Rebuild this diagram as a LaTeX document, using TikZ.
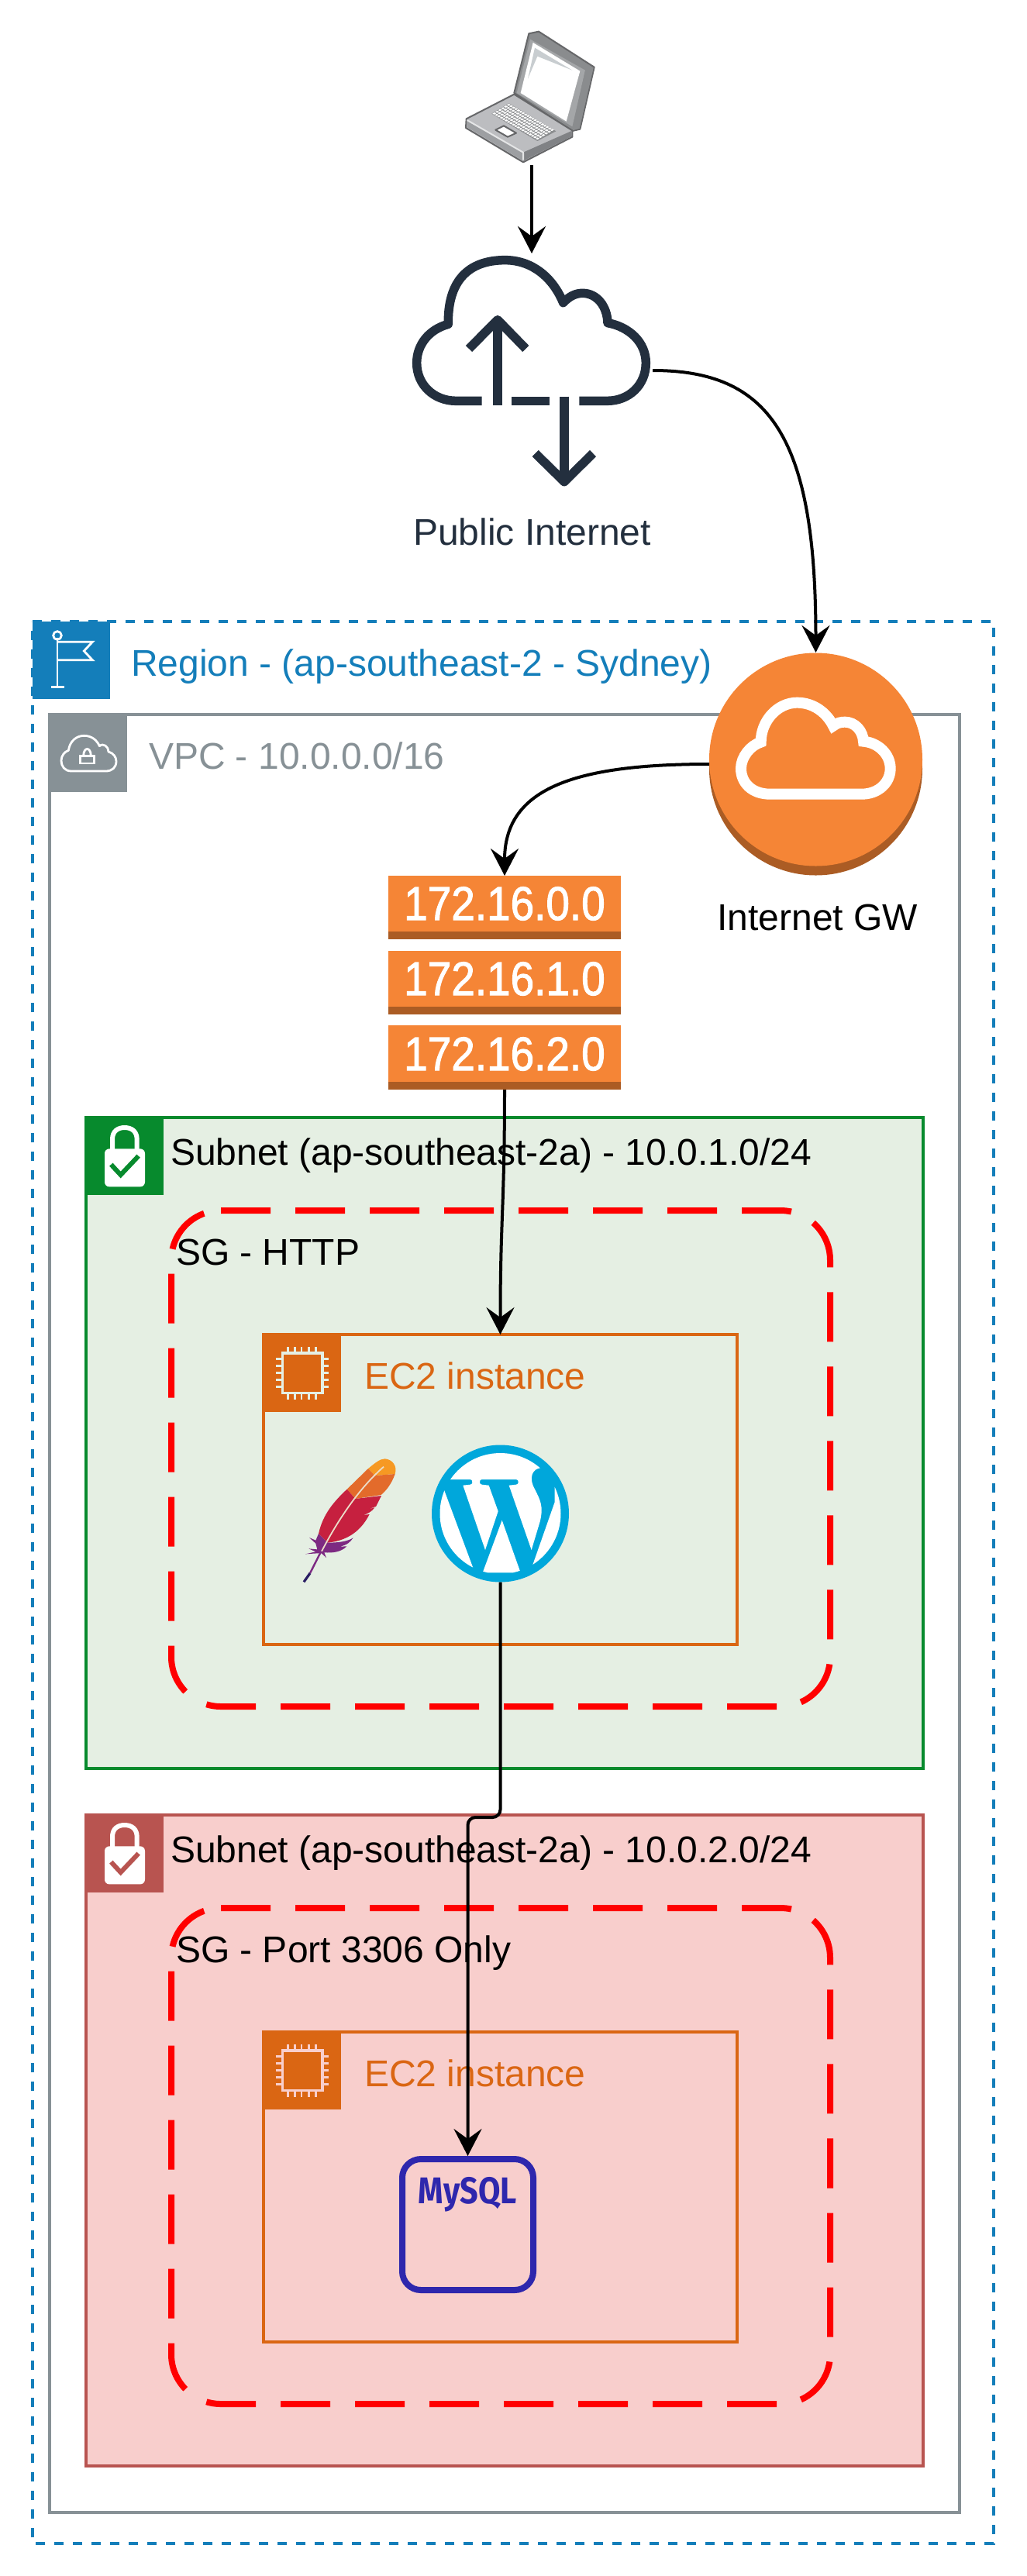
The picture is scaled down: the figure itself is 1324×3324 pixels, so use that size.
\documentclass[tikz,border=0pt]{standalone}
\usepackage{fontspec}
\setmainfont{Liberation Sans}
\newfontfamily\mysqlfont{Fira Sans}
\newfontfamily\ipfont[FakeBold=1.8]{Liberation Sans}
\usetikzlibrary{arrows.meta,calc}
\definecolor{regionc}{HTML}{147EBA}
\definecolor{vpcc}{HTML}{879196}
\definecolor{greenb}{HTML}{078A2D}
\definecolor{greenf}{HTML}{E5EFE3}
\definecolor{redb}{HTML}{B85450}
\definecolor{redf}{HTML}{F8CECC}
\definecolor{ec2c}{HTML}{DA6613}
\definecolor{awso}{HTML}{F58536}
\definecolor{awsd}{HTML}{AB5C24}
\definecolor{inkc}{HTML}{232F3E}
\definecolor{wpc}{HTML}{00A7DB}
\definecolor{dbc}{HTML}{2E27AD}
\definecolor{fya}{HTML}{F69923}
\definecolor{fob}{HTML}{E36B2B}
\definecolor{frd}{HTML}{C6203F}
\definecolor{fpu}{HTML}{7D2A82}
\definecolor{fna}{HTML}{2A1E64}
\definecolor{fcr}{HTML}{EBDCC8}
\definecolor{lapa}{HTML}{666769}
\definecolor{lapb}{HTML}{8A8C8E}
\definecolor{lapc}{HTML}{A4A6A8}
\definecolor{lapd}{HTML}{C8CDD0}
\definecolor{lape}{HTML}{BCBDC0}
\definecolor{lapf}{HTML}{9D9FA2}
\definecolor{lapg}{HTML}{808285}
\definecolor{laph}{HTML}{E4E5E6}
\tikzset{
  x=0.5pt,y=-0.5pt,
  >={Stealth[length=17.5pt,width=18pt,inset=6.5pt]},
  lbl/.style={anchor=base west,inner sep=0pt,outer sep=0pt,font=\fontsize{24}{28}\selectfont},
  ghost/.style={inner sep=0pt,outer sep=0pt,rectangle},
  conn/.style={draw=black,line width=2pt},
  sgline/.style={draw=red,line width=4pt,dash pattern=on 32pt off 16pt,rounded corners=32pt},
  iptext/.style={anchor=base,inner sep=0pt,text=white,font=\ipfont\fontsize{30.5}{34}\selectfont},
}
\newcommand{\lockicon}[2]{%
  \begin{scope}[shift={(90,#1)},scale=1/3]
    \draw[white,line width=3pt] (165,190) -- (165,150) .. controls (165,120) and (185,105) .. (212,105) .. controls (240,105) and (260,120) .. (260,150) -- (260,190);
    \fill[white,rounded corners=3pt] (135,187) rectangle (291,334);
    \draw[#2,line width=3pt] (160,248) -- (197,288) -- (266,215);
  \end{scope}}
\newcommand{\chipicon}[2]{%
  \begin{scope}[shift={(320,#1)},scale=1/3]
    \fill[ec2c] (54,90) rectangle (360,396);
    \draw[#2,line width=1.6pt] (133,168) rectangle (288,322);
    \foreach \q in {155,181,207,235,262}{
      \draw[#2,line width=1.4pt] (\q,145) -- (\q,168);
      \draw[#2,line width=1.4pt] (\q,322) -- (\q,347);
    }
    \foreach \q in {190,217,245,272,298}{
      \draw[#2,line width=1.4pt] (107,\q) -- (133,\q);
      \draw[#2,line width=1.4pt] (288,\q) -- (313,\q);
    }
  \end{scope}}
\newcommand{\sgbox}[1]{%
  \begin{scope}[yshift=#1]
    \draw[sgline] (285,1562) -- (1071,1562) -- (1071,2202) -- (221,2202) -- (221,1562) -- (285,1562);
  \end{scope}}
\begin{document}
\begin{tikzpicture}
\useasboundingbox (0,0) rectangle (1324,3324);
\fill[white] (0,0) rectangle (1324,3324);

% ---------- region ----------
\draw[regionc,line width=2pt,dash pattern=on 6pt off 6pt] (42,802) -- (1282,802) -- (1282,3282) -- (42,3282) -- cycle;
\fill[regionc] (42,802) rectangle (142,902);
\begin{scope}[shift={(20,780)},scale=1/3]
  \draw[white,line width=1.4pt] (162,128) -- (162,320) (137,320) -- (188,320);
  \draw[white,line width=1.4pt] (162,120) circle[radius=8pt];
  \draw[white,line width=1.4pt] (162,145) -- (298,145) -- (265,180) -- (298,215) -- (162,215);
\end{scope}
\node[lbl,text=regionc] (regionlabel) at (169,872) {Region - (ap-southeast-2 - Sydney)};

% ---------- vpc ----------
\draw[vpcc,line width=2pt] (64,922) rectangle (1238,3242);
\fill[vpcc] (62,920) rectangle (164,1022);
\begin{scope}[shift={(20,780)},scale=1/3]
  \draw[white,line width=1.4pt,line join=round] (215,645) .. controls (190,645) and (177,625) .. (177,605) .. controls (177,585) and (190,570) .. (205,565) .. controls (210,530) and (235,508) .. (265,508) .. controls (295,508) and (315,525) .. (325,548) .. controls (340,535) and (360,550) .. (360,570) .. controls (378,575) and (390,590) .. (390,607) .. controls (390,630) and (375,645) .. (350,645) -- cycle;
  \draw[white,line width=1.4pt] (250,587) rectangle (305,615);
  \draw[white,line width=1.4pt] (263,587) .. controls (263,550) and (292,550) .. (292,587);
\end{scope}
\node[lbl,text=vpcc] (vpclabel) at (192,992) {VPC - 10.0.0.0/16};

% ---------- subnet A ----------
\draw[greenb,fill=greenf,line width=2pt] (111,1442) rectangle (1191,2282);
\fill[greenb] (109,1440) rectangle (211,1542);
\lockicon{1420}{greenb}
\node[lbl] (subnetalabel) at (220,1503) {Subnet (ap-southeast-2a) - 10.0.1.0/24};
\sgbox{0pt}
\node[lbl] (sgalabel) at (227,1632) {SG - HTTP};
\node[ghost,draw=ec2c,line width=2pt,minimum width=305.5pt,minimum height=200pt] (ec2a) at (645.5,1922) {};
\chipicon{1690}{greenf}
\node[lbl,text=ec2c] (ec2alabel) at (470,1792) {EC2 instance};

% apache feather
\begin{scope}[shift={(320,1820)},scale=1/3]
  \fill[fya] (465,225) .. controls (490,205) and (510,187) .. (530,187) .. controls (560,190) and (578,215) .. (569,246) -- (490,252) -- cycle;
  \fill[fob] (383,305) -- (465,225) -- (490,252) -- (569,246) .. controls (555,285) and (535,310) .. (515,327) -- (415,342) -- cycle;
  \fill[frd] (273,477) .. controls (290,400) and (335,350) .. (383,305) -- (415,342) -- (516,330) -- (495,372) -- (460,383) -- (490,376) .. controls (480,390) and (465,400) .. (445,405) -- (470,402) .. controls (430,480) and (370,505) .. (308,512) -- cycle;
  \fill[fpu] (273,477) -- (308,512) .. controls (345,512) and (385,508) .. (407,493) .. controls (395,510) and (385,520) .. (355,527) -- (382,526) .. controls (360,548) and (330,552) .. (295,550) -- (303,570) -- (283,552) -- (222,556) -- (262,547) -- (235,535) -- (268,538) -- (262,515) -- (237,492) -- (262,503) -- cycle;
  \draw[fpu,line width=1.2pt] (283,545) -- (240,630);
  \draw[fna,line width=1.6pt] (240,630) -- (216,664);
  \draw[fcr,line width=0.9pt] (285,545) .. controls (340,440) and (420,310) .. (525,218);
\end{scope}

% wordpress
\node[ghost,circle,minimum size=88.5pt,fill=wpc] (wp) at (645.5,1953) {};
\begin{scope}[shift={(320,1820)},scale=1/3]
  \begin{scope}
    \clip (976.5,399) circle[radius=117pt];
    \fill[white] (780,267) -- (860,267) .. controls (871,267) and (871,287) .. (860,287) -- (832,290) -- (918,540) -- (968,390) -- (932,290) -- (905,287) .. controls (894,287) and (894,267) .. (905,267) -- (1038,267) .. controls (1049,267) and (1049,287) .. (1038,287) -- (1010,290) -- (1097,540) -- (1130,430) .. controls (1145,370) and (1130,345) .. (1110,305) .. controls (1085,260) and (1100,225) .. (1135,222) -- (1200,100) -- (750,100) -- cycle;
    \fill[white] (908,628) -- (983,425) -- (1055,628) -- cycle;
    \fill[white] (758,305) -- (872,612) -- (700,700) -- (700,305) -- cycle;
    \fill[white] (1187,290) -- (1187,355) -- (1100,603) -- (1260,700) -- (1260,290) -- cycle;
  \end{scope}
\end{scope}

% ---------- subnet B ----------
\draw[redb,fill=redf,line width=2pt] (111,2342) rectangle (1191,3182);
\fill[redb] (109,2340) rectangle (211,2442);
\lockicon{2320}{redb}
\node[lbl] (subnetblabel) at (220,2403) {Subnet (ap-southeast-2a) - 10.0.2.0/24};
\sgbox{-450pt}
\node[lbl] (sgblabel) at (227,2532) {SG - Port 3306 Only};
\node[ghost,draw=ec2c,line width=2pt,minimum width=305.5pt,minimum height=200pt] (ec2b) at (645.5,2822) {};
\chipicon{2590}{redf}
\node[lbl,text=ec2c] (ec2blabel) at (470,2692) {EC2 instance};
\node[ghost,draw=dbc,line width=4pt,rounded corners=12pt,minimum width=84.5pt,minimum height=84.5pt] (mysqlbox) at (603.5,2870.5) {};
\node[anchor=base,inner sep=0pt,text=dbc,font=\mysqlfont\bfseries\fontsize{24}{28}\selectfont] (mysqllabel) at (603.5,2843) {\scalebox{0.86}[1]{MySQL}};
\node[ghost,minimum width=88.5pt,minimum height=88.5pt] (mysql) at (603.5,2870.5) {};

% ---------- laptop ----------
\node[ghost,minimum width=125pt,minimum height=96.5pt] (laptop) at (686,116.5) {};
\begin{scope}[shift={(500,20)},scale=1/3,line join=round]
  % lid
  \filldraw[draw=lapa,fill=lapb,line width=1pt] (490,300) -- (547,70) -- (585,62) -- (800,200) -- (745,440) -- (715,447) -- cycle;
  \fill[lapc] (500,300) -- (552,92) -- (765,212) -- (715,430) -- cycle;
  \fill[lapb] (765,212) -- (797,202) -- (743,438) -- (715,445) -- cycle;
  \fill[white] (563,105) -- (745,215) -- (692,410) -- (515,300) -- cycle;
  \fill[lapd] (570,125) -- (715,212) -- (580,158) -- (543,245) -- cycle;
  % base
  \filldraw[draw=lapa,fill=lape,line width=1pt] (305,400) -- (490,305) -- (715,445) -- (715,470) -- (525,568) -- (303,435) -- cycle;
  \fill[lapf] (308,408) -- (525,530) -- (525,563) -- (308,432) -- cycle;
  \fill[lapg] (525,530) -- (712,447) -- (712,468) -- (525,563) -- cycle;
  \draw[laph,line width=1pt] (308,405) -- (525,530) -- (525,560);
  % keyboard
  \fill[lapb] (403,380) -- (470,340) -- (652,448) -- (580,486) -- cycle;
  \foreach \i in {0,...,18}{
    \foreach \j in {0,...,5}{
      \pgfmathsetmacro{\px}{403+(\i+.5)*9.3+(\j+.5)*11.2}
      \pgfmathsetmacro{\py}{380+(\i+.5)*5.4-(\j+.5)*6.7}
      \fill[white] (\px-3.5-3.9,\py-1.9+2.3) -- (\px+3.5-3.9,\py+1.9+2.3) -- (\px+3.5+3.9,\py+1.9-2.3) -- (\px-3.5+3.9,\py-1.9-2.3) -- cycle;
    }
  }
  % touch pad
  \filldraw[draw=lapa,fill=white,line width=1pt] (450,427) -- (498,455) -- (465,470) -- (418,443) -- cycle;
\end{scope}

% ---------- public internet ----------
\node[ghost,minimum width=156pt,minimum height=151pt] (cloud) at (686,478) {};
\begin{scope}[shift={(500,320)},scale=1/3,line width=5.75pt,line join=round]
  \draw[inkc] (365,592) -- (265,592) .. controls (180,592) and (113,530) .. (113,445) .. controls (113,375) and (160,315) .. (235,295) .. controls (232,130) and (310,47) .. (455,47) .. controls (560,47) and (640,115) .. (680,212) .. controls (705,185) and (730,175) .. (755,175) .. controls (810,175) and (850,225) .. (852,290) .. controls (935,305) and (1000,365) .. (1000,445) .. controls (1000,530) and (935,592) .. (850,592) -- (742,592);
  \draw[inkc] (480,592) -- (627,592);
  \draw[inkc] (426,608) -- (426,275);
  \draw[inkc] (315,390) -- (426,278) -- (535,390);
  \draw[inkc] (684,575) -- (684,905);
  \draw[inkc] (572,795) -- (684,905) -- (795,795);
\end{scope}
\node[lbl,text=inkc] (publiclabel) at (533,703) {Public Internet};

% ---------- internet gateway ----------
\node[ghost,minimum width=137.5pt,minimum height=144pt] (igw) at (1052.5,986) {};
\fill[awsd] (1052.5,992) circle[radius=68.75pt];
\fill[awso] (1052.5,980) circle[radius=68.75pt];
\begin{scope}[shift={(800,780)},scale=1/3]
  \draw[white,line width=7pt] (580,734) .. controls (510,734) and (468,690) .. (468,635) .. controls (468,590) and (505,545) .. (545,533) .. controls (545,450) and (610,380) .. (685,380) .. controls (750,380) and (800,420) .. (825,470) .. controls (840,458) and (855,455) .. (870,455) .. controls (910,455) and (940,490) .. (942,530) .. controls (1000,535) and (1046,580) .. (1046,635) .. controls (1046,690) and (1000,734) .. (935,734) -- cycle;
\end{scope}
\node[lbl] (igwlabel) at (925.5,1200) {Internet GW};

% ---------- IP stack ----------
\node[ghost,minimum width=150pt,minimum height=138pt] (ipstack) at (651,1268) {};
\foreach \t/\b in {1130/1212,1227/1309,1323/1406}{
  \fill[awsd] (501,\t) rectangle (801,\b);
  \fill[awso] (501,\t) rectangle (801,\b-10.5);
}
\node[iptext] (ip0) at (651,1187) {\scalebox{0.9}[1]{172.16.0.0}};
\node[iptext] (ip1) at (651,1284) {\scalebox{0.9}[1]{172.16.1.0}};
\node[iptext] (ip2) at (651,1381) {\scalebox{0.9}[1]{172.16.2.0}};

% ---------- connectors ----------
\draw[conn,->] (laptop.south) -- (laptop.south |- cloud.north);
\draw[conn,->] (cloud.east) .. controls +(150,0) and +(0,-280) .. (igw.north);
\draw[conn,->] (igw.west) .. controls +(-180,0) and +(0,-110) .. (ipstack.north);
\draw[conn,->] (ipstack.south) .. controls +(0,150) and +(0,-150) .. (ec2a.north);
\coordinate (wpbend) at (624,2345);
\draw[conn,rounded corners=5pt,->] (wp.south) |- (wpbend) -| (mysql.north);
\end{tikzpicture}
\end{document}
